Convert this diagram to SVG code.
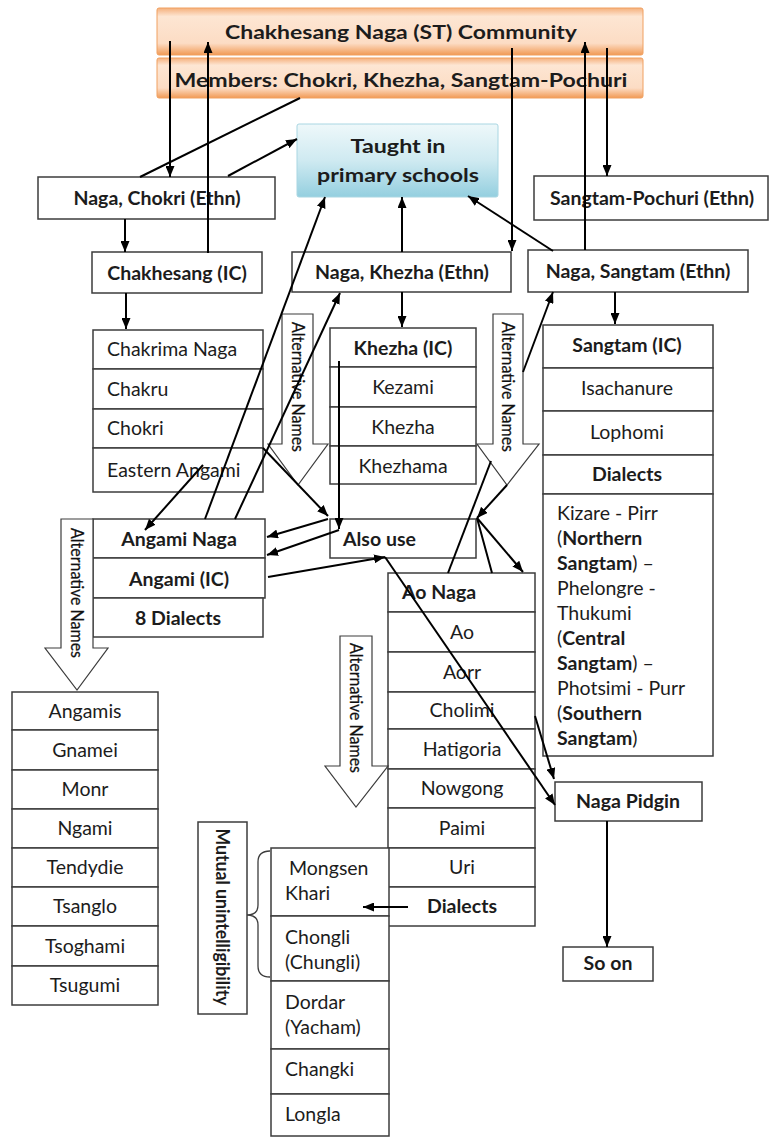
<svg xmlns="http://www.w3.org/2000/svg" width="775" height="1137" viewBox="0 0 775 1137">
<style>
.box{fill:#fff;stroke:#3c3c3c;stroke-width:1.5}
.alt{fill:#fff;stroke:#3c3c3c;stroke-width:1.2}
.t{font-family:Lato,"Open Sans","Liberation Sans",sans-serif;font-size:19.5px;fill:#1c1c1c}
.b{font-weight:bold}
.c{text-anchor:middle}
.an{font-size:17px;fill:#111;stroke:#111;stroke-width:0.25}
.ln{stroke:#000;stroke-width:2;fill:none}
.ar{marker-end:url(#ah)}
</style>
<defs>
<marker id="ah" viewBox="0 0 11 9" refX="11" refY="4.5" markerWidth="11" markerHeight="9" markerUnits="userSpaceOnUse" orient="auto"><path d="M0,0 L11,4.5 L0,9 z" fill="#000"/></marker>
<linearGradient id="og" x1="0" y1="0" x2="0" y2="1">
<stop offset="0" stop-color="#f5b07c"/><stop offset="0.18" stop-color="#fde6d3"/><stop offset="0.75" stop-color="#fcdcc4"/><stop offset="1" stop-color="#f19a55"/>
</linearGradient>
<linearGradient id="bg" x1="0" y1="0" x2="0" y2="1">
<stop offset="0" stop-color="#eef8fa"/><stop offset="0.5" stop-color="#cfeaf1"/><stop offset="1" stop-color="#94cfdf"/>
</linearGradient>
</defs>
<rect width="775" height="1137" fill="#fff"/>

<g id="community">
<rect x="157" y="8" width="486" height="47" rx="2" fill="url(#og)" stroke="#f0a060" stroke-width="1"/>
<text class="t b c" x="401" y="39" font-size="24" textLength="352" lengthAdjust="spacingAndGlyphs">Chakhesang Naga (ST) Community</text>
</g>
<g id="members">
<rect x="157" y="58" width="486" height="40" rx="2" fill="url(#og)" stroke="#f0a060" stroke-width="1"/>
<text class="t b c" x="401" y="87" font-size="24" textLength="453" lengthAdjust="spacingAndGlyphs">Members: Chokri, Khezha, Sangtam-Pochuri</text>
</g>
<g id="taught">
<rect x="297" y="124" width="201" height="73" rx="2" fill="url(#bg)" stroke="#a9d6e2" stroke-width="1"/>
<text class="t b c" x="398" y="153" font-size="25" textLength="95" lengthAdjust="spacingAndGlyphs">Taught in</text>
<text class="t b c" x="398" y="182" font-size="25" textLength="162" lengthAdjust="spacingAndGlyphs">primary schools</text>
</g>
<g id="naga-chokri">
<rect class="box" x="38" y="177" width="237" height="42"/>
<text class="t b c" x="157" y="205">Naga, Chokri (Ethn)</text>
</g>
<g id="sangtam-pochuri">
<rect class="box" x="534" y="176" width="234" height="44"/>
<text class="t b c" x="652" y="205">Sangtam-Pochuri (Ethn)</text>
</g>
<g id="chakhesang-ic">
<rect class="box" x="92" y="252" width="170" height="41"/>
<text class="t b c" x="177" y="280">Chakhesang (IC)</text>
</g>
<g id="naga-khezha">
<rect class="box" x="292" y="252" width="219" height="40"/>
<text class="t b c" x="402" y="279">Naga, Khezha (Ethn)</text>
</g>
<g id="naga-sangtam">
<rect class="box" x="528" y="250" width="220" height="42"/>
<text class="t b c" x="638" y="278">Naga, Sangtam (Ethn)</text>
</g>

<g id="chokri-names">
<rect class="box" x="93" y="330" width="170" height="39"/>
<rect class="box" x="93" y="369" width="170" height="40"/>
<rect class="box" x="93" y="409" width="170" height="39"/>
<rect class="box" x="93" y="448" width="170" height="44"/>
<text class="t" x="107" y="356">Chakrima Naga</text>
<text class="t" x="107" y="396">Chakru</text>
<text class="t" x="107" y="435">Chokri</text>
<text class="t" x="107" y="477">Eastern Angami</text>
</g>
<g id="khezha-names">
<rect class="box" x="330" y="328" width="146" height="39"/>
<rect class="box" x="330" y="367" width="146" height="40"/>
<rect class="box" x="330" y="407" width="146" height="39"/>
<rect class="box" x="330" y="446" width="146" height="38"/>
<text class="t b c" x="403" y="355">Khezha (IC)</text>
<text class="t c" x="403" y="394">Kezami</text>
<text class="t c" x="403" y="434">Khezha</text>
<text class="t c" x="403" y="473">Khezhama</text>
</g>
<g id="sangtam-names">
<rect class="box" x="543" y="325" width="170" height="43"/>
<rect class="box" x="543" y="368" width="170" height="43"/>
<rect class="box" x="543" y="411" width="170" height="44"/>
<rect class="box" x="543" y="455" width="170" height="39"/>
<rect class="box" x="543" y="494" width="170" height="262"/>
<text class="t b c" x="627" y="352">Sangtam (IC)</text>
<text class="t c" x="627" y="395">Isachanure</text>
<text class="t c" x="627" y="439">Lophomi</text>
<text class="t b c" x="627" y="481">Dialects</text>
<text class="t" x="557" y="520">Kizare - Pirr</text>
<text class="t" x="557" y="545">(<tspan class="b">Northern</tspan></text>
<text class="t" x="557" y="570"><tspan class="b">Sangtam</tspan>) –</text>
<text class="t" x="557" y="595">Phelongre -</text>
<text class="t" x="557" y="620">Thukumi</text>
<text class="t" x="557" y="645">(<tspan class="b">Central</tspan></text>
<text class="t" x="557" y="670"><tspan class="b">Sangtam</tspan>) –</text>
<text class="t" x="557" y="695">Photsimi - Purr</text>
<text class="t" x="557" y="720">(<tspan class="b">Southern</tspan></text>
<text class="t" x="557" y="745"><tspan class="b">Sangtam</tspan>)</text>
</g>

<g id="alt-names-1">
<path class="alt" d="M282,314 H313 V444 H328 L298,485 L268,444 H282 Z"/>
<text class="t an" transform="translate(291.5,387) rotate(90)" text-anchor="middle" textLength="130" lengthAdjust="spacingAndGlyphs">Alternative Names</text>
</g>
<g id="alt-names-2">
<path class="alt" d="M493,314 H523 V444 H539 L507,485 L477,444 H493 Z"/>
<text class="t an" transform="translate(502,387) rotate(90)" text-anchor="middle" textLength="130" lengthAdjust="spacingAndGlyphs">Alternative Names</text>
</g>

<g id="also-use">
<rect class="box" x="330" y="519" width="146" height="39"/>
<text class="t b" x="343" y="546">Also use</text>
</g>
<g id="angami">
<rect class="box" x="93" y="519" width="172" height="39"/>
<rect class="box" x="93" y="558" width="172" height="40"/>
<rect class="box" x="93" y="598" width="170" height="39"/>
<text class="t b c" x="179" y="546">Angami Naga</text>
<text class="t b c" x="179" y="586">Angami (IC)</text>
<text class="t b c" x="178" y="625">8 Dialects</text>
</g>
<g id="alt-names-3">
<path class="alt" d="M61,519 H93 V648 H108 L77,690 L45,648 H61 Z"/>
<text class="t an" transform="translate(71,593) rotate(90)" text-anchor="middle" textLength="130" lengthAdjust="spacingAndGlyphs">Alternative Names</text>
</g>
<g id="angami-names">
<rect class="box" x="12" y="692" width="146" height="38"/>
<rect class="box" x="12" y="730" width="146" height="40"/>
<rect class="box" x="12" y="770" width="146" height="39"/>
<rect class="box" x="12" y="809" width="146" height="39"/>
<rect class="box" x="12" y="848" width="146" height="39"/>
<rect class="box" x="12" y="887" width="146" height="39"/>
<rect class="box" x="12" y="926" width="146" height="40"/>
<rect class="box" x="12" y="966" width="146" height="39"/>
<text class="t c" x="85" y="718">Angamis</text>
<text class="t c" x="85" y="757">Gnamei</text>
<text class="t c" x="85" y="796">Monr</text>
<text class="t c" x="85" y="835">Ngami</text>
<text class="t c" x="85" y="874">Tendydie</text>
<text class="t c" x="85" y="913">Tsanglo</text>
<text class="t c" x="85" y="953">Tsoghami</text>
<text class="t c" x="85" y="992">Tsugumi</text>
</g>

<g id="ao-naga">
<rect class="box" x="388" y="573" width="147" height="39"/>
<rect class="box" x="388" y="612" width="147" height="40"/>
<rect class="box" x="388" y="652" width="147" height="40"/>
<rect class="box" x="388" y="692" width="147" height="37"/>
<rect class="box" x="388" y="729" width="147" height="40"/>
<rect class="box" x="388" y="769" width="147" height="39"/>
<rect class="box" x="388" y="808" width="147" height="40"/>
<rect class="box" x="388" y="848" width="147" height="39"/>
<rect class="box" x="388" y="887" width="147" height="39"/>
<text class="t b" x="402" y="599">Ao Naga</text>
<text class="t c" x="462" y="639">Ao</text>
<text class="t c" x="462" y="679">Aorr</text>
<text class="t c" x="462" y="717">Cholimi</text>
<text class="t c" x="462" y="756">Hatigoria</text>
<text class="t c" x="462" y="795">Nowgong</text>
<text class="t c" x="462" y="835">Paimi</text>
<text class="t c" x="462" y="874">Uri</text>
<text class="t b c" x="462" y="913">Dialects</text>
</g>
<g id="alt-names-4">
<path class="alt" d="M340,636 H372 V766 H388 L356,807 L325,766 H340 Z"/>
<text class="t an" transform="translate(350,708) rotate(90)" text-anchor="middle" textLength="130" lengthAdjust="spacingAndGlyphs">Alternative Names</text>
</g>

<g id="ao-dialects">
<rect class="box" x="271" y="848" width="118" height="68"/>
<rect class="box" x="271" y="916" width="118" height="65"/>
<rect class="box" x="271" y="981" width="118" height="68"/>
<rect class="box" x="271" y="1049" width="118" height="45"/>
<rect class="box" x="271" y="1094" width="118" height="42"/>
<text class="t" x="289" y="875">Mongsen</text>
<text class="t" x="285" y="900">Khari</text>
<text class="t" x="285" y="944">Chongli</text>
<text class="t" x="285" y="969">(Chungli)</text>
<text class="t" x="285" y="1009">Dordar</text>
<text class="t" x="285" y="1034">(Yacham)</text>
<text class="t" x="285" y="1076">Changki</text>
<text class="t" x="285" y="1121">Longla</text>
</g>
<g id="mutual">
<rect class="box" x="198" y="822" width="49" height="192"/>
<text class="t b" font-size="16.5" transform="translate(216,917) rotate(90)" text-anchor="middle" textLength="177" lengthAdjust="spacingAndGlyphs">Mutual unintelligibility</text>
<path d="M270,851 Q258,851 258,862 V905 Q258,915 247,915 Q258,915 258,925 V966 Q258,977 270,977" fill="none" stroke="#3c3c3c" stroke-width="1.3"/>
</g>

<g id="naga-pidgin">
<rect class="box" x="555" y="782" width="147" height="39"/>
<text class="t b c" x="628" y="808">Naga Pidgin</text>
</g>
<g id="so-on">
<rect class="box" x="563" y="947" width="90" height="34"/>
<text class="t b c" x="608" y="970" font-size="18.5">So on</text>
</g>

<g id="connectors">
<line class="ln ar" x1="170" y1="41" x2="170" y2="177"/>
<line class="ln ar" x1="208" y1="253" x2="208" y2="42"/>
<line class="ln ar" x1="512" y1="48" x2="512" y2="251"/>
<line class="ln ar" x1="585" y1="250" x2="585" y2="42"/>
<line class="ln ar" x1="607" y1="48" x2="607" y2="176"/>
<line class="ln" x1="140" y1="177" x2="300" y2="98"/>
<line class="ln ar" x1="228" y1="176" x2="297" y2="139"/>
<line class="ln ar" x1="125" y1="219" x2="125" y2="252"/>
<line class="ln ar" x1="126" y1="293" x2="126" y2="329"/>
<line class="ln ar" x1="402" y1="252" x2="402" y2="197"/>
<line class="ln ar" x1="553" y1="251" x2="468" y2="196"/>
<line class="ln ar" x1="402" y1="292" x2="402" y2="327"/>
<line class="ln ar" x1="615" y1="292" x2="615" y2="324"/>
<line class="ln ar" x1="205" y1="519" x2="325" y2="197"/>
<line class="ln ar" x1="235" y1="519" x2="340" y2="293"/>
<line class="ln ar" x1="203" y1="465" x2="145" y2="530"/>
<line class="ln ar" x1="263" y1="448" x2="328" y2="516"/>
<line class="ln ar" x1="328" y1="519" x2="267" y2="537"/>
<line class="ln ar" x1="339" y1="361" x2="339" y2="529"/>
<line class="ln ar" x1="339" y1="530" x2="267" y2="555"/>
<line class="ln ar" x1="268" y1="577" x2="385" y2="557"/>
<line class="ln ar" x1="385" y1="557" x2="555" y2="805"/>
<line class="ln ar" x1="507" y1="485" x2="477" y2="518"/>
<line class="ln" x1="477" y1="518" x2="492" y2="573"/>
<line class="ln ar" x1="535" y1="716" x2="554" y2="779"/>
<line class="ln ar" x1="477" y1="518" x2="523" y2="572"/>
<line class="ln" x1="448" y1="573" x2="491" y2="461"/>
<line class="ln ar" x1="523" y1="372" x2="553" y2="292"/>
<line class="ln ar" x1="607" y1="821" x2="607" y2="947"/>
<line class="ln ar" x1="408" y1="907" x2="363" y2="907"/>
</g>
</svg>
